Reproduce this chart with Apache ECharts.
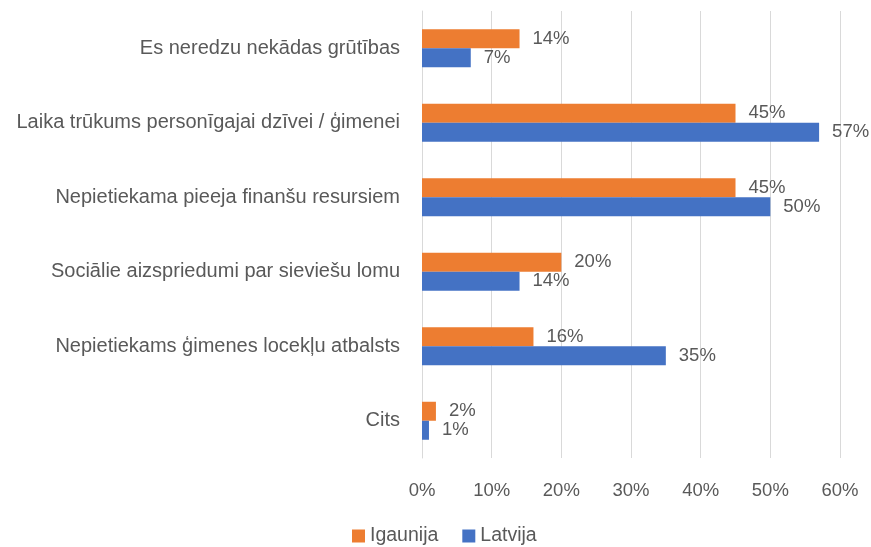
<!DOCTYPE html>
<html>
<head>
<meta charset="utf-8">
<script src="https://cdn.jsdelivr.net/npm/echarts@6/dist/echarts.min.js"></script>
<style>
  html, body { margin: 0; padding: 0; background: #fff; }
  #chart { width: 871px; height: 547px; }
</style>
</head>
<body>
<div id="chart"></div>
<script>
// Reasons listed top to bottom
const categories = [
  'Es neredzu nekādas grūtības',
  'Laika trūkums personīgajai dzīvei / ģimenei',
  'Nepietiekama pieeja finanšu resursiem',
  'Sociālie aizspriedumi par sieviešu lomu',
  'Nepietiekams ģimenes locekļu atbalsts',
  'Cits'
];
const igaunija = [14, 45, 45, 20, 16, 2];
const latvija = [7, 57, 50, 14, 35, 1];
const xTicks = [0, 10, 20, 30, 40, 50, 60];

const textColor = '#595959';
const font = 'Liberation Sans';

const chart = echarts.init(document.getElementById('chart'));
chart.setOption({
  animation: false,
  textStyle: { fontFamily: font },
  grid: { left: 422, right: 31, top: 11, bottom: 89, containLabel: false },
  legend: {
    top: 521,
    left: 347,
    padding: 5,
    itemWidth: 13,
    itemHeight: 13,
    itemGap: 24,
    icon: 'rect',
    textStyle: { color: textColor, fontSize: 19.5, fontFamily: font },
    data: ['Igaunija', 'Latvija']
  },
  xAxis: {
    type: 'value',
    min: xTicks[0],
    max: xTicks[xTicks.length - 1],
    interval: 10,
    axisLine: { show: false },
    axisTick: { show: false },
    axisLabel: { color: textColor, fontSize: 18.5, margin: 23, formatter: '{value}%' },
    splitLine: { lineStyle: { color: '#d9d9d9', width: 1 } }
  },
  yAxis: {
    type: 'category',
    inverse: true,
    data: categories,
    axisLine: { show: true, lineStyle: { color: '#d9d9d9' } },
    axisTick: { show: false },
    axisLabel: { color: textColor, fontSize: 20, margin: 22 }
  },
  series: [
    {
      name: 'Igaunija',
      type: 'bar',
      data: igaunija,
      barWidth: 19,
      barGap: '0%',
      itemStyle: { color: '#ED7D31' },
      label: { show: true, position: 'right', distance: 13, color: textColor, fontSize: 18.5, formatter: '{c}%' }
    },
    {
      name: 'Latvija',
      type: 'bar',
      data: latvija,
      barWidth: 19,
      barGap: '0%',
      itemStyle: { color: '#4472C4' },
      label: { show: true, position: 'right', distance: 13, color: textColor, fontSize: 18.5, formatter: '{c}%' }
    }
  ]
});
</script>
</body>
</html>
